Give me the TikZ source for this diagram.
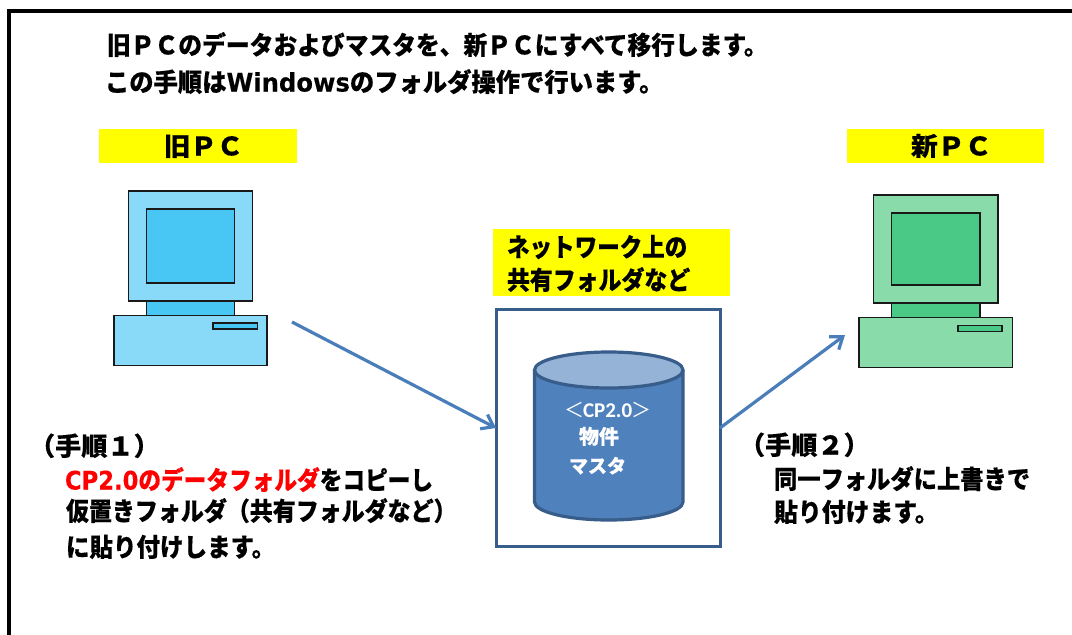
\documentclass[tikz,border=0pt]{standalone}
\usepackage{fontspec}
\usepackage{graphicx}
\usetikzlibrary{arrows.meta,shapes.geometric}
\setmainfont{DejaVu Sans}[BoldFeatures={FakeBold=0.25}]
\newfontfamily\jpf{Noto Sans CJK JP}[BoldFeatures={FakeBold=0.35}]
\newfontfamily\crl{Carlito}
\newcommand{\J}[1]{{\jpf\bfseries #1}}
\newcommand{\SX}[2]{\scalebox{#1}[1]{#2}}
\definecolor{pcblue}{HTML}{89D9F9}
\definecolor{pcbluedk}{HTML}{48C6F4}
\definecolor{pcgreen}{HTML}{8ADBAA}
\definecolor{pcgreendk}{HTML}{4AC885}
\definecolor{linkblue}{HTML}{4A7EBB}
\definecolor{boxblue}{HTML}{385D8A}
\definecolor{cylblue}{HTML}{4F81BD}
\definecolor{cyltop}{HTML}{95B3D7}
\definecolor{bandyellow}{HTML}{FFFF00}
\definecolor{txtred}{HTML}{FF0000}
\tikzset{
  x=1pt,y=-1pt,
  txt/.style={anchor=base west,inner sep=0pt,outer sep=0pt,font=\fontsize{25.5}{25.5}\selectfont\bfseries},
  small/.style={anchor=base west,inner sep=0pt,outer sep=0pt,font=\fontsize{20}{20}\selectfont\bfseries,text=white},
  band/.style={fill=bandyellow,draw=none},
  pcline/.style={draw=black!90,line width=1.5pt},
  link/.style={draw=linkblue,line width=3.2pt,-{Straight Barb[length=11pt,width=16pt,line width=3.2pt]}},
}
\begin{document}
\begin{tikzpicture}
\useasboundingbox (0,0) rectangle (1072,635);
\fill[white] (0,0) rectangle (1072,635);
% frame
\draw[black,line width=4pt,line join=miter] (9,635) -- (9,11) -- (1072,11);
% header text
\node[txt] (t1) at (107,54.5) {\SX{.932}{\J{旧ＰＣのデータおよびマスタを、新ＰＣにすべて移行します。}}};
\node[txt] (t2) at (105,91.5) {\SX{.953}{\J{この手順は}Windows\J{のフォルダ操作で行います。}}};
% yellow bands
\fill[band] (99,129) rectangle (297,162.5);
\fill[band] (847,129) rectangle (1044,162.5);
\fill[band] (493,229) rectangle (730,296);
\node[txt] (h1) at (164,155.5) {\SX{1.034}{\J{旧ＰＣ}}};
\node[txt] (h2) at (911,155.5) {\SX{1.053}{\J{新ＰＣ}}};
\node[txt] (h3) at (507,256.5) {\SX{.884}{\J{ネットワーク上の}}};
\node[txt] (h4) at (507,289.5) {\SX{.898}{\J{共有フォルダなど}}};
% old PC
\draw[pcline,fill=pcblue] (128.7,191) rectangle (252.7,301);
\draw[pcline,fill=pcbluedk] (146.7,209) rectangle (234.7,283);
\draw[pcline,fill=pcbluedk] (146.7,301) rectangle (234.7,316);
\draw[pcline,fill=pcblue] (114,315.7) rectangle (267,365.7);
\draw[pcline,fill=pcbluedk] (213,323) rectangle (257.3,329);
% new PC
\draw[pcline,fill=pcgreen] (873.3,195) rectangle (998,303);
\draw[pcline,fill=pcgreendk] (891.5,213) rectangle (980,285);
\draw[pcline,fill=pcgreendk] (891.5,303) rectangle (980,318);
\draw[pcline,fill=pcgreen] (859,317.7) rectangle (1012.7,367.5);
\draw[pcline,fill=pcgreendk] (958,325.5) rectangle (1002,331.5);
% share box
\node[draw=boxblue,line width=3pt,fill=white,minimum width=224pt,minimum height=237.5pt,inner sep=0pt,outer sep=0pt] (box) at (608,428) {};
% cylinder
\draw[boxblue,line width=3.2pt,fill=cylblue] (534.5,370) -- (534.5,502) arc[start angle=180,end angle=360,x radius=74.25pt,y radius=18pt] -- (683,370);
\draw[boxblue,line width=3.2pt,fill=cyltop] (608.75,370) ellipse[x radius=74.25pt,y radius=18pt];
\node[small,font=\fontsize{20}{20}\selectfont\bfseries] (c1) at (564,417) {{\jpf\mdseries ＜}\hspace{-1pt}{\crl\bfseries\fontsize{21}{21}\selectfont CP2.0}\hspace{-1pt}{\jpf\mdseries ＞}};
\node[small,font=\fontsize{20}{20}\selectfont\bfseries] (c2) at (579,444) {\J{物件}};
\node[small,font=\fontsize{19}{19}\selectfont\bfseries] (c3) at (569,473) {\J{マスタ}};
% connectors
\coordinate (from) at (292,322);
\coordinate (to) at (845,335);
\draw[link] (from) -- (box.west);
\draw[link] (box.east) -- (to);
% steps
\node[txt] (s1) at (29,455.5) {\SX{1.026}{\J{（手順１）}}};
\node[txt] (s2) at (65,489.5) {\SX{.889}{\textcolor{txtred}{CP2.0\J{のデータフォルダ}}\J{をコピーし}}};
\node[txt] (s3) at (66,520.5) {\SX{.901}{\J{仮置きフォルダ（共有フォルダなど）}}};
\node[txt] (s4) at (66,556.5) {\SX{.922}{\J{に貼り付けします。}}};
\node[txt] (s5) at (739,454.5) {\SX{1.026}{\J{（手順２）}}};
\node[txt] (s6) at (774,488.5) {\SX{.913}{\J{同一フォルダに上書きで}}};
\node[txt] (s7) at (774,521.5) {\SX{.936}{\J{貼り付けます。}}};
\end{tikzpicture}
\end{document}
